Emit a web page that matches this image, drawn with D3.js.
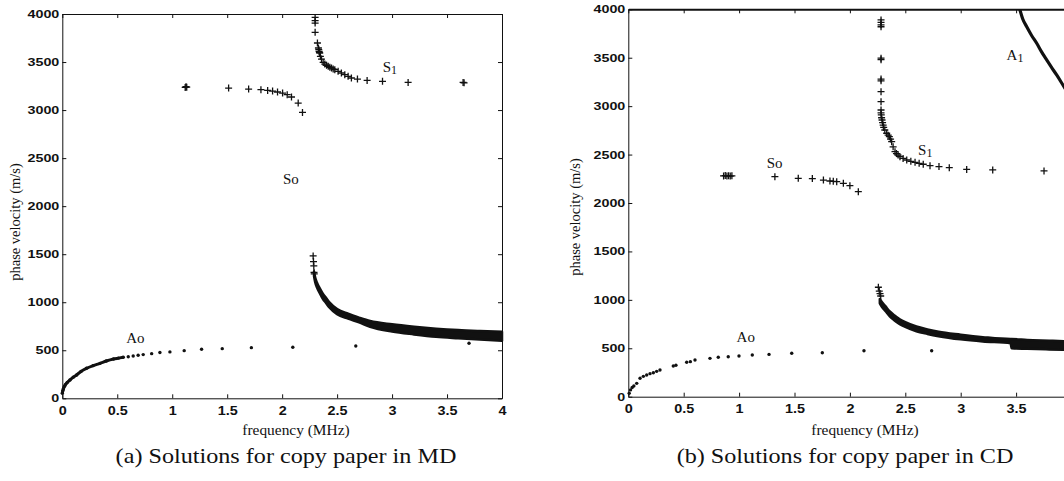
<!DOCTYPE html>
<html>
<head>
<meta charset="utf-8">
<script src="https://cdn.jsdelivr.net/npm/d3@7"></script>
<style>
  body { margin: 0; background: #fff; }
  svg { display: block; }
  .tick text { font-family: 'Liberation Sans', Arial, sans-serif; font-weight: bold; fill: #111; }
  .axis path, .axis line { stroke: #111; }
  .serif { font-family: 'Liberation Serif', 'Times New Roman', serif; fill: #111; }
</style>
</head>
<body>
<svg id="chart" width="1064" height="481"></svg>
<script>
  'use strict';

  // axes
  var xTicks = [0, 0.5, 1, 1.5, 2, 2.5, 3, 3.5, 4],
    yTicks = [0, 500, 1000, 1500, 2000, 2500, 3000, 3500, 4000];

  // (a) copy paper, MD : frequency (MHz) / phase velocity (m/s)
  var mdS0F = [1.118, 1.125, 1.132, 1.513, 1.695, 1.807, 1.868, 1.913, 1.958, 2.004, 2.046, 2.085, 2.146, 2.185],
    mdS0V = [3236, 3244, 3238, 3229, 3219, 3212, 3205, 3198, 3188, 3177, 3160, 3136, 3073, 2976];

  var mdS1F = [2.300, 2.300, 2.300, 2.300, 2.321, 2.330, 2.333, 2.336, 2.339, 2.342, 2.348, 2.358, 2.373, 2.388,
      2.404, 2.419, 2.434, 2.449, 2.464, 2.479, 2.509, 2.539, 2.570, 2.600, 2.630, 2.685, 2.773, 2.913, 3.146, 3.646, 3.655],
    mdS1V = [3965, 3931, 3906, 3809, 3698, 3646, 3630, 3611, 3600, 3594, 3559, 3531, 3497, 3479,
      3466, 3455, 3446, 3438, 3428, 3420, 3403, 3386, 3368, 3351, 3334, 3323, 3309, 3299, 3288, 3288, 3284];

  // dense band of solutions (upper / lower edge)
  var mdBandF = [2.29, 2.30, 2.32, 2.34, 2.37, 2.40, 2.43, 2.50, 2.60, 2.70, 2.80, 3.00, 3.20, 3.40, 3.60, 3.80, 4.00],
    mdBandHi = [1320, 1260, 1195, 1150, 1090, 1045, 1000, 930, 880, 840, 805, 770, 745, 725, 710, 700, 692],
    mdBandLo = [1270, 1210, 1145, 1100, 1035, 990, 945, 875, 830, 790, 745, 695, 665, 640, 625, 612, 600];
  var mdTopF = [2.282, 2.285, 2.288, 2.290, 2.292],
    mdTopV = [1482, 1423, 1378, 1310, 1295];

  var mdA0F = [0, 0.005, 0.01, 0.02, 0.03, 0.045, 0.07, 0.1, 0.13, 0.17, 0.22, 0.28, 0.343, 0.4, 0.466, 0.51,
      0.555, 0.6, 0.645, 0.69, 0.736, 0.813, 0.888, 0.979, 1.109, 1.267, 1.455, 1.72, 2.097, 2.67, 3.7],
    mdA0V = [52, 80, 100, 125, 145, 165, 191, 220, 243, 280, 312, 340, 364, 388, 409, 418,
      427, 432, 441, 448, 455, 465, 476, 483, 496, 510, 517, 527, 531, 545, 573];

  var mdLabels = [['So', '', 2.08, 2285], ['S', '1', 2.98, 3450], ['Ao', '', 0.665, 625]];

  // (b) copy paper, CD
  var cdS0F = [0.86, 0.875, 0.89, 0.905, 0.92, 0.935, 1.323, 1.534, 1.661, 1.761, 1.82, 1.85, 1.881, 1.941, 2.0, 2.076],
    cdS0V = [2280, 2283, 2279, 2282, 2278, 2281, 2272, 2255, 2252, 2237, 2227, 2224, 2220, 2203, 2179, 2117];

  var cdS1F = [2.281, 2.281, 2.281, 2.281, 2.281, 2.281, 2.281, 2.281, 2.281, 2.281, 2.281, 2.281, 2.283, 2.286,
      2.29, 2.295, 2.3, 2.305, 2.315, 2.332, 2.345, 2.356, 2.367, 2.377, 2.39, 2.407, 2.42, 2.435, 2.452, 2.48,
      2.513, 2.55, 2.588, 2.625, 2.662, 2.723, 2.804, 2.897, 3.054, 3.289, 3.752],
    cdS1V = [3890, 3865, 3840, 3820, 3495, 3480, 3280, 3262, 3149, 3046, 2960, 2930, 2909, 2880,
      2857, 2830, 2805, 2780, 2754, 2720, 2700, 2685, 2660, 2633, 2580, 2530, 2510, 2495, 2478, 2460,
      2444, 2430, 2420, 2410, 2400, 2385, 2376, 2365, 2347, 2341, 2331];

  var cdBandF = [2.27, 2.29, 2.32, 2.36, 2.40, 2.45, 2.50, 2.60, 2.70, 2.80, 3.00, 3.20, 3.45, 3.46, 3.60, 3.80, 4.00],
    cdBandHi = [1010, 975, 935, 880, 840, 800, 770, 725, 695, 670, 640, 615, 595, 595, 585, 578, 570],
    cdBandLo = [965, 925, 885, 830, 790, 750, 720, 675, 648, 625, 592, 570, 552, 500, 495, 488, 482];
  var cdTopF = [2.257, 2.265, 2.272, 2.278],
    cdTopV = [1130, 1090, 1065, 1040];

  var cdA1F = [3.533, 3.56, 3.596, 3.64, 3.686, 3.73, 3.776, 3.82, 3.866, 3.932, 4.0],
    cdA1V = [4000, 3900, 3820, 3730, 3649, 3560, 3477, 3400, 3322, 3201, 3080];

  var cdA0F = [0.008, 0.02, 0.035, 0.05, 0.076, 0.106, 0.136, 0.166, 0.196, 0.226, 0.256, 0.286, 0.406, 0.43,
      0.527, 0.56, 0.602, 0.737, 0.812, 0.902, 0.999, 1.119, 1.27, 1.475, 1.751, 2.127, 2.738],
    cdA0V = [35, 70, 95, 110, 138, 190, 210, 224, 238, 248, 262, 276, 317, 325,
      355, 362, 379, 396, 407, 413, 420, 431, 437, 448, 454, 475, 475];

  var cdLabels = [['So', '', 1.32, 2413], ['S', '1', 2.68, 2547], ['A', '1', 3.49, 3528], ['Ao', '', 1.06, 620]];

  var svg = d3.select('#chart'),
    pageW = +svg.attr('width'),
    plus = 'M-3.5,0H3.5M0,-3.5V3.5',
    fmt = d3.format('~g');

  function stretch(sel, k) {
    sel.each(function () {
      var w = this.getComputedTextLength();
      d3.select(this).attr('textLength', w * k).attr('lengthAdjust', 'spacingAndGlyphs');
    });
  }

  function drawPanel(p) {
    var g = svg.append('g').attr('transform', 'translate(' + p.left + ',' + p.top + ')'),
      x = d3.scaleLinear().domain([0, 4]).range([0, p.width]),
      y = d3.scaleLinear().domain([0, 4000]).range([p.height, 0]);

    g.append('clipPath').attr('id', 'clip-' + p.id)
      .append('rect').attr('x', -6).attr('y', 0).attr('width', p.width + 12).attr('height', p.height + 6);

    // box with inward ticks
    var bottom = g.append('g').attr('class', 'axis').attr('transform', 'translate(0,' + p.height + ')')
      .call(d3.axisBottom(x).tickValues(xTicks).tickFormat(fmt).tickSize(-4).tickSizeOuter(0).tickPadding(8));
    var left = g.append('g').attr('class', 'axis')
      .call(d3.axisLeft(y).tickValues(yTicks).tickFormat(fmt).tickSize(-4).tickSizeOuter(0).tickPadding(3));
    g.append('g').attr('class', 'axis')
      .call(d3.axisTop(x).tickValues(xTicks).tickFormat('').tickSize(-4).tickSizeOuter(0))
      .select('.domain').attr('stroke-width', p.topStroke);
    g.append('g').attr('class', 'axis').attr('transform', 'translate(' + p.width + ',0)')
      .call(d3.axisRight(y).tickValues(yTicks).tickFormat('').tickSize(-4).tickSizeOuter(0));

    // the (b) panel runs off the page: drop the labels that fall outside it
    bottom.selectAll('.tick')
      .filter(function (d) { return p.left + x(d) + 4 > pageW; })
      .select('text').remove();

    bottom.selectAll('text').attr('font-size', 12);
    left.selectAll('text').attr('font-size', 11);
    stretch(bottom.selectAll('text'), 1.2);
    stretch(left.selectAll('text'), 1.3);

    var plot = g.append('g').attr('clip-path', 'url(#clip-' + p.id + ')');

    // dense band
    plot.append('path')
      .datum(d3.range(p.bandF.length))
      .attr('d', d3.area()
        .x(function (i) { return x(p.bandF[i]); })
        .y0(function (i) { return y(p.bandLo[i]); })
        .y1(function (i) { return y(p.bandHi[i]); })
        .curve(d3.curveMonotoneX))
      .attr('fill', '#111')
      .attr('stroke', '#111')
      .attr('stroke-width', 2.5)
      .attr('stroke-linejoin', 'round');

    // A1 (b only)
    if (p.a1F) {
      plot.append('path')
        .datum(d3.zip(p.a1F, p.a1V))
        .attr('d', d3.line()
          .x(function (d) { return x(d[0]); })
          .y(function (d) { return y(d[1]); })
          .curve(d3.curveMonotoneX))
        .attr('fill', 'none')
        .attr('stroke', '#111')
        .attr('stroke-width', 3.2);
    }

    // A0: dense start drawn as a trace, then dots
    var a0 = d3.zip(p.a0F, p.a0V);
    if (p.a0Trace) {
      plot.append('path')
        .datum(a0.filter(function (d) { return d[0] <= p.a0Trace; }))
        .attr('d', d3.line()
          .x(function (d) { return x(d[0]); })
          .y(function (d) { return y(d[1]); })
          .curve(d3.curveMonotoneX))
        .attr('fill', 'none')
        .attr('stroke', '#111')
        .attr('stroke-width', 3);
    }
    plot.selectAll('circle.a0').data(a0).enter().append('circle')
      .attr('class', 'a0')
      .attr('cx', function (d) { return x(d[0]); })
      .attr('cy', function (d) { return y(d[1]); })
      .attr('r', 1.7)
      .attr('fill', '#111');

    // + markers
    var pts = d3.zip(p.s0F, p.s0V).concat(d3.zip(p.s1F, p.s1V), d3.zip(p.topF, p.topV));
    plot.selectAll('path.plus').data(pts).enter().append('path')
      .attr('class', 'plus')
      .attr('d', plus)
      .attr('transform', function (d) { return 'translate(' + x(d[0]) + ',' + y(d[1]) + ')'; })
      .attr('stroke', '#111')
      .attr('stroke-width', 1.3)
      .attr('fill', 'none');

    // mode labels
    p.labels.forEach(function (l) {
      var t = g.append('text').attr('class', 'serif')
        .attr('x', x(l[2])).attr('y', y(l[3]))
        .attr('text-anchor', 'middle')
        .attr('dominant-baseline', 'central')
        .attr('font-size', 15);
      t.append('tspan').text(l[0]);
      if (l[1]) t.append('tspan').attr('font-size', 12).attr('dy', 3).text(l[1]);
    });

    // axis titles and caption
    var xl = svg.append('text').attr('class', 'serif')
      .attr('x', p.xLabelX).attr('y', 435)
      .attr('text-anchor', 'middle').attr('font-size', 14)
      .text('frequency (MHz)');
    stretch(xl, 1.1);

    svg.append('text').attr('class', 'serif')
      .attr('transform', 'translate(' + p.yLabelX + ',' + p.yLabelY + ') rotate(-90)')
      .attr('text-anchor', 'middle').attr('font-size', 14.5)
      .text('phase velocity (m/s)');

    var cap = svg.append('text').attr('class', 'serif')
      .attr('x', p.capX).attr('y', 463)
      .attr('text-anchor', 'middle').attr('font-size', 21)
      .text(p.caption);
    stretch(cap, 1.15);
  }

  drawPanel({
    id: 'md', left: 62.3, top: 14, width: 439.7, height: 384.3, topStroke: 1.2,
    s0F: mdS0F, s0V: mdS0V, s1F: mdS1F, s1V: mdS1V, topF: mdTopF, topV: mdTopV,
    bandF: mdBandF, bandHi: mdBandHi, bandLo: mdBandLo,
    a0F: mdA0F, a0V: mdA0V, a0Trace: 0.56, labels: mdLabels,
    xLabelX: 296, yLabelX: 20, yLabelY: 222, capX: 286,
    caption: '(a) Solutions for copy paper in MD'
  });

  drawPanel({
    id: 'cd', left: 628.3, top: 9.3, width: 443.2, height: 387.4, topStroke: 2,
    s0F: cdS0F, s0V: cdS0V, s1F: cdS1F, s1V: cdS1V, topF: cdTopF, topV: cdTopV,
    bandF: cdBandF, bandHi: cdBandHi, bandLo: cdBandLo,
    a1F: cdA1F, a1V: cdA1V,
    a0F: cdA0F, a0V: cdA0V, a0Trace: 0, labels: cdLabels,
    xLabelX: 865, yLabelX: 580, yLabelY: 217, capX: 845,
    caption: '(b) Solutions for copy paper in CD'
  });
</script>
</body>
</html>
